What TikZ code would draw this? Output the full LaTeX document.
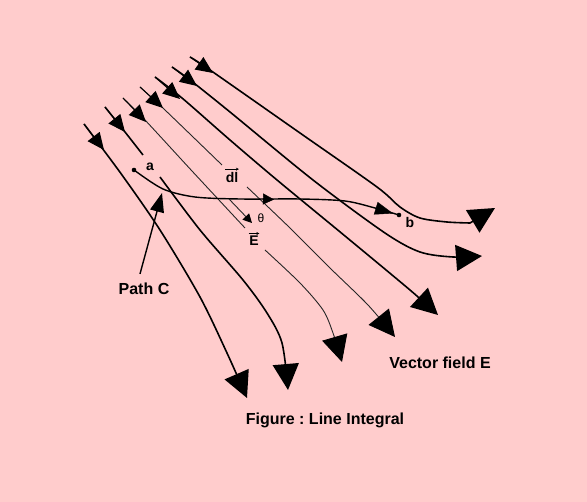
\documentclass[tikz,border=0pt]{standalone}
\usepackage{fontspec}
\setmainfont{Liberation Sans}
\frenchspacing
\usetikzlibrary{arrows.meta, calc}
\definecolor{bgpink}{RGB}{255,204,204}

\tikzset{
	bigtip/.tip={Triangle[length=26pt, width=26pt, color=black]},
	starttip/.tip={Triangle[length=17pt, width=15pt, color=black]},
	fieldline/.style={line width=1.6pt},
	thinline/.style={line width=0.9pt, black!85},
	overarrow/.style={line width=0.6pt, -{Stealth[length=3pt, width=3pt]}},
	lbl/.style={font=\bfseries\fontsize{16}{18}\selectfont, inner sep=1pt},
	smalllbl/.style={font=\bfseries\fontsize{14}{16}\selectfont, inner sep=0.5pt}
}

\begin{document}
\begin{tikzpicture}[x=1pt, y=-1pt]
					\fill[bgpink] (0,0) rectangle (587,502);
					\useasboundingbox (0,0) rectangle (587,502);

					% field lines
					\begin{scope}[fieldline]
						\draw[-bigtip] plot[smooth] coordinates {(84,124) (122,175) (160,230) (200,297) (227,353) (247,398)};

						\draw plot[smooth] coordinates {(105,107) (125,132) (143,155)};
						\draw[-bigtip] plot[smooth] coordinates {(160,177) (200,230) (243,280) (267,313) (282,343) (288,390)};

						\draw[thinline] plot[smooth] coordinates {(123,98) (145,120) (192,171) (245,228)};
						\draw[thinline, -bigtip] plot[smooth] coordinates {(265,250) (300,283) (323,310) (333,333) (342,362)};

						\draw[thinline] plot[smooth] coordinates {(140,87) (165,110) (222,165)};
						\draw[thinline, -bigtip] plot[smooth] coordinates {(247,187) (290,228) (330,268) (368,305) (395,337)};

						\draw[-bigtip] plot[smooth] coordinates {(155,77) (182,98) (230,140) (277,180) (345,236) (410,290) (438,315)};

						\draw[-bigtip] plot[smooth] coordinates {(172,67) (190,80) (230,112) (313,180) (385,233) (420,252) (453,257) (482,256)};

						\draw[-bigtip] plot[smooth] coordinates {(190,57) (210,70) (300,133) (377,187) (400,207) (420,218) (447,222) (470,223)} -- (495,208);
					\end{scope}

					% arrows near the start of each line
					\begin{scope}[-starttip]
						\foreach \sx/\sy/\tx/\ty in {84/124/104/150, 105/107/125/132, 123/98/146/122, 140/87/163/108, 155/77/180/99, 172/67/197/86, 190/57/213/73}
						{
							\draw[line width=1pt] (\sx,\sy) -- (\tx,\ty);
						}
					\end{scope}

					% path C from a to b
					\coordinate (a) at (134,170);
					\coordinate (b) at (399,215);
					\draw[line width=1.4pt] plot[smooth] coordinates {(a) (163,189) (195,197) (240,199) (300,199) (345,201) (375,208) (b)};
					\draw[-{Triangle[length=11pt, width=11pt]}] (262,199) -- (274,199.5);
					\draw[-{Triangle[length=18pt, width=13pt]}] (375,208) -- (393,213.5);
					\fill (a) circle (2.3pt);
					\fill (b) circle (2.3pt);

					% vector E at the path
					\coordinate (Efoot) at (229,199);
					\coordinate (Etip) at (252,223);
					\draw[thinline, -{Triangle[length=9pt, width=9pt, color=black]}] (Efoot) -- (Etip);

					% labels
					\node[smalllbl] (alabel) at (150,167) {a};
					\node[smalllbl] (blabel) at (410,222) {b};
					\node[smalllbl] (dllabel) at (232,177) {dl};
					\draw[overarrow] ([yshift=2pt]dllabel.north west) -- ([yshift=2pt]dllabel.north east);
					\node[font=\fontsize{12}{14}\selectfont, inner sep=0.5pt] (thetalabel) at (261,218) {θ};
					\node[smalllbl] (Elabel) at (254,241) {E};
					\draw[overarrow] ([yshift=2pt]Elabel.north west) -- ([yshift=2pt]Elabel.north east);
					\node[lbl] (pathC) at (144,289) {Path C};
					\node[lbl] (fieldlabel) at (440,363) {Vector field E};
					\node[lbl] (caption) at (325,420) {Figure : Line Integral};

					\coordinate (ptip) at (162,193);
					\draw[line width=1.4pt, -{Triangle[length=19pt, width=14pt]}] ($(pathC.north)+(-4,-8)$) -- (ptip);
				\end{tikzpicture}
\end{document}
